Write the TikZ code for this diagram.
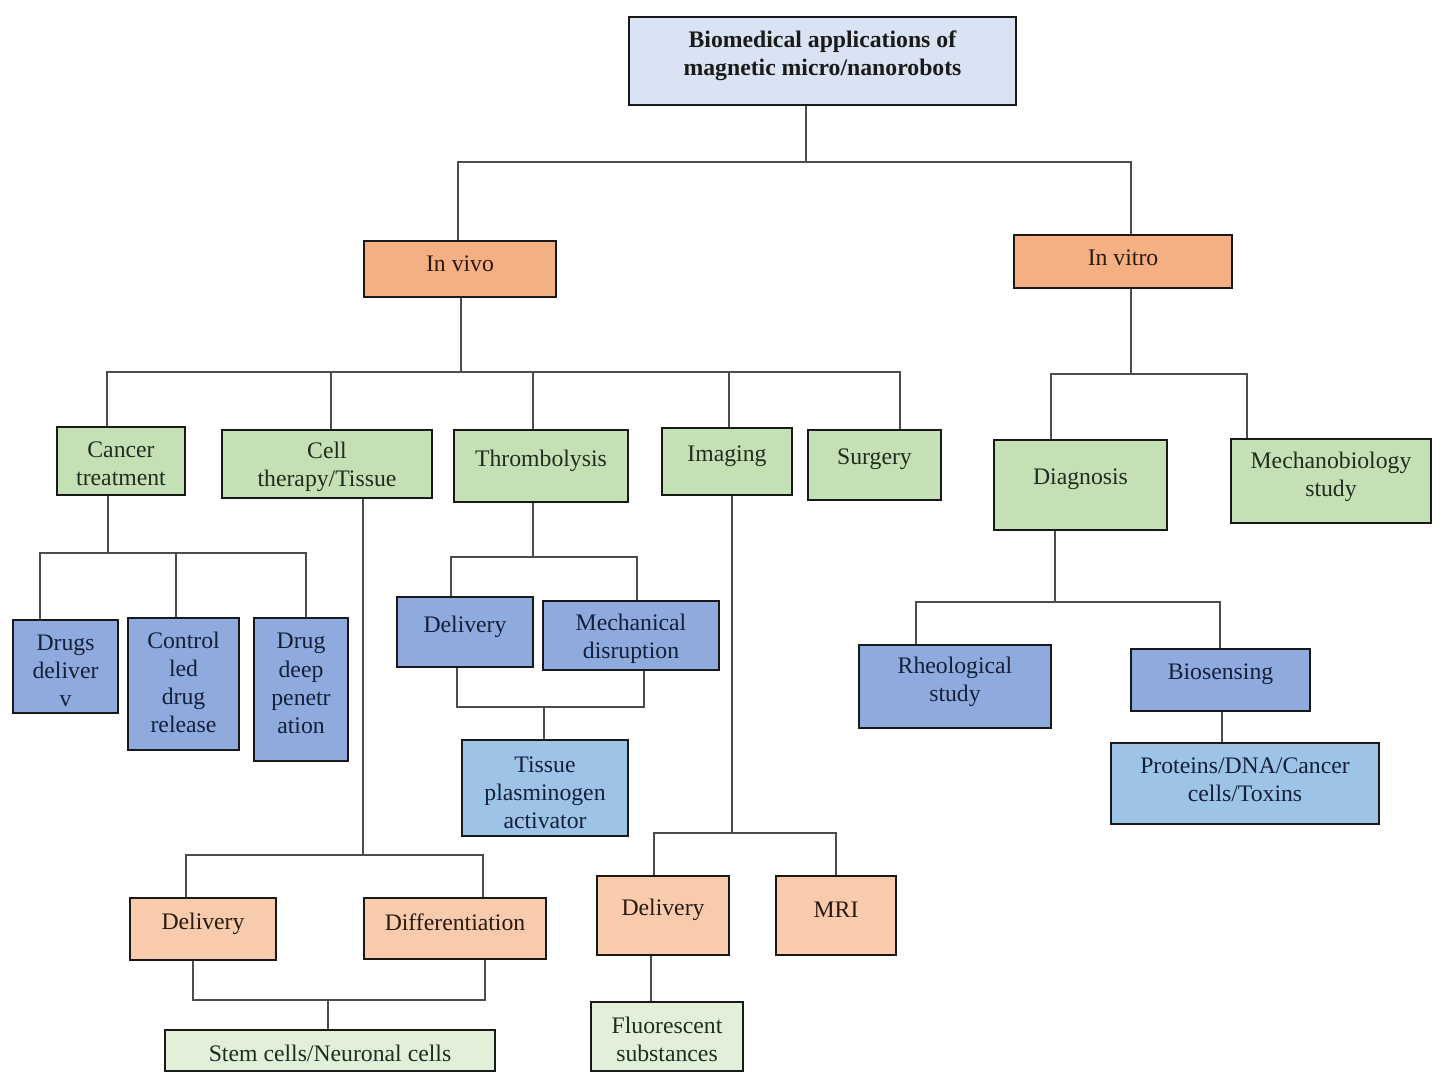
\documentclass[tikz,border=0pt]{standalone}
\usepackage{fontspec}
\setmainfont{Liberation Serif}
\definecolor{ft}{HTML}{DAE3F3}
\definecolor{tt}{HTML}{1A1A1A}
\definecolor{fo}{HTML}{F4AF82}
\definecolor{to}{HTML}{2A1A10}
\definecolor{fg}{HTML}{C5E0B4}
\definecolor{tg}{HTML}{1E2E1E}
\definecolor{fb}{HTML}{8FAADC}
\definecolor{tb}{HTML}{14203A}
\definecolor{flb}{HTML}{9DC3E6}
\definecolor{tlb}{HTML}{14203A}
\definecolor{fp}{HTML}{F8CBAD}
\definecolor{tp}{HTML}{2A1A10}
\definecolor{flg}{HTML}{E2F0D9}
\definecolor{tlg}{HTML}{1E2E1E}
\tikzset{
  box/.style={draw=black!90, line width=1.6pt, rectangle, inner sep=0pt},
  conn/.style={draw=black!70, line width=0.8pt},
  txt/.style={align=center, inner sep=0pt, font=\fontsize{13.5}{16}\selectfont}
}
\newcommand\bx[8]{%
  \node[box,fill=f#2,minimum width={(#5-#3)*0.02cm},minimum height={(#6-#4)*0.02cm}] (#1) at ({(#3+#5)/2},{(#4+#6)/2}) {};
  \node[txt,text=t#2] (#1-t) at ({(#3+#5)/2},{#7+1.5}) {#8};}
\begin{document}
\begin{tikzpicture}[x=0.02cm,y=-0.02cm]
\useasboundingbox (0,0) rectangle (1447,1092);
% boxes
\bx{top}{t}{629}{17}{1016}{105}{54}{\textbf{Biomedical applications of}\\\textbf{magnetic micro/nanorobots}}
\bx{invivo}{o}{364}{241}{556}{297}{262}{In vivo}
\bx{invitro}{o}{1014}{235}{1232}{288}{256}{In vitro}
\bx{ct}{g}{57}{427}{185}{495}{462}{Cancer\\treatment}
\bx{cell}{g}{222}{430}{432}{498}{465}{Cell\\therapy/Tissue}
\bx{thr}{g}{454}{430}{628}{502}{459}{Thrombolysis}
\bx{img}{g}{662}{428}{792}{495}{455}{Imaging}
\bx{surg}{g}{808}{430}{941}{500}{458}{Surgery}
\bx{diag}{g}{994}{440}{1167}{530}{478}{Diagnosis}
\bx{mech}{g}{1231}{439}{1431}{523}{475}{Mechanobiology\\study}
\bx{dd}{b}{13}{620}{118}{713}{669}{Drugs\\deliver\\v}
\bx{cl}{b}{128}{618}{239}{750}{681}{Control\\led\\drug\\release}
\bx{deep}{b}{254}{618}{348}{761}{682}{Drug\\deep\\penetr\\ation}
\bx{tdel}{b}{397}{597}{533}{667}{625}{Delivery}
\bx{mdis}{b}{543}{601}{719}{670}{637}{Mechanical\\disruption}
\bx{tpa}{lb}{462}{740}{628}{836}{791}{Tissue\\plasminogen\\activator}
\bx{cdel}{p}{130}{898}{276}{960}{922}{Delivery}
\bx{diff}{p}{364}{898}{546}{959}{921}{Differentiation}
\bx{stem}{lg}{165}{1030}{495}{1071}{1052}{Stem cells/Neuronal cells}
\bx{idel}{p}{597}{876}{729}{955}{908}{Delivery}
\bx{mri}{p}{776}{876}{896}{955}{908}{MRI}
\bx{fl}{lg}{591}{1002}{743}{1071}{1038}{Fluorescent\\substances}
\bx{rheo}{b}{859}{645}{1051}{728}{680}{Rheological\\study}
\bx{bios}{b}{1131}{649}{1310}{711}{673}{Biosensing}
\bx{prot}{lb}{1111}{743}{1379}{824}{778}{Proteins/DNA/Cancer\\cells/Toxins}
% connectors
\draw[conn] (806,0 |- top.south) -- (806,162);
\draw[conn] (458,0 |- invivo.north) -- (458,162) -- (1131,162) -- (1131,0 |- invitro.north);
\draw[conn] (461,0 |- invivo.south) -- (461,372);
\draw[conn] (107,0 |- ct.north) -- (107,372) -- (900,372) -- (900,0 |- surg.north);
\draw[conn] (331,372) -- (331,0 |- cell.north);
\draw[conn] (533,372) -- (533,0 |- thr.north);
\draw[conn] (729,372) -- (729,0 |- img.north);
\draw[conn] (1131,0 |- invitro.south) -- (1131,374);
\draw[conn] (1051,0 |- diag.north) -- (1051,374) -- (1247,374) -- (1247,0 |- mech.north);
\draw[conn] (108,0 |- ct.south) -- (108,553);
\draw[conn] (40,0 |- dd.north) -- (40,553) -- (306,553) -- (306,0 |- deep.north);
\draw[conn] (176,553) -- (176,0 |- cl.north);
\draw[conn] (363,0 |- cell.south) -- (363,855);
\draw[conn] (186,0 |- cdel.north) -- (186,855) -- (483,855) -- (483,0 |- diff.north);
\draw[conn] (193,0 |- cdel.south) -- (193,1000) -- (485,1000) -- (485,0 |- diff.south);
\draw[conn] (328,1000) -- (328,0 |- stem.north);
\draw[conn] (533,0 |- thr.south) -- (533,557);
\draw[conn] (451,0 |- tdel.north) -- (451,557) -- (637,557) -- (637,0 |- mdis.north);
\draw[conn] (457,0 |- tdel.south) -- (457,707) -- (644,707) -- (644,0 |- mdis.south);
\draw[conn] (544,707) -- (544,0 |- tpa.north);
\draw[conn] (732,0 |- img.south) -- (732,833);
\draw[conn] (654,0 |- idel.north) -- (654,833) -- (836,833) -- (836,0 |- mri.north);
\draw[conn] (651,0 |- idel.south) -- (651,0 |- fl.north);
\draw[conn] (1055,0 |- diag.south) -- (1055,602);
\draw[conn] (916,0 |- rheo.north) -- (916,602) -- (1220,602) -- (1220,0 |- bios.north);
\draw[conn] (1222,0 |- bios.south) -- (1222,0 |- prot.north);
\end{tikzpicture}
\end{document}
